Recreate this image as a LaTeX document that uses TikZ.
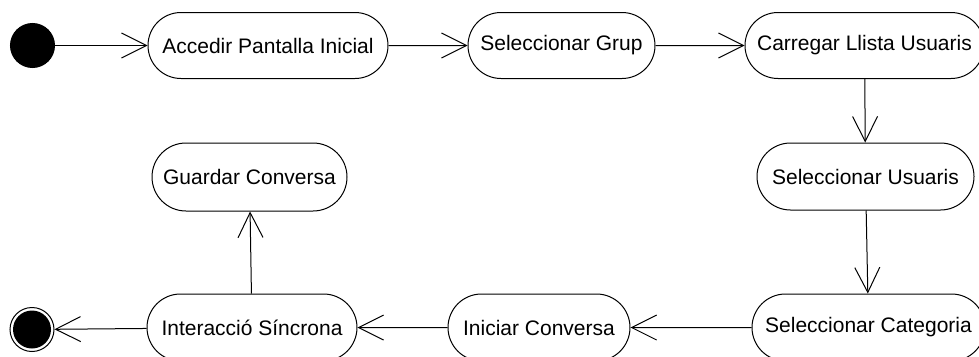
\documentclass[tikz,border=0pt]{standalone}
\usepackage{fontspec}
\setmainfont{Liberation Sans}
\usetikzlibrary{shapes.misc,arrows.meta}
\begin{document}
\begin{tikzpicture}[x=1pt,y=-1pt,
  act/.style={rounded rectangle, draw, line width=1pt, inner sep=0pt,
    minimum height=66pt, font=\fontsize{21}{25}\selectfont},
  flow/.style={draw, line width=1pt, -{Straight Barb[length=25pt,width=25pt,line width=1pt]}}]
\useasboundingbox (0,0) rectangle (979,356);
\clip (0,0) rectangle (979,356);
\node[circle, fill=black, draw, line width=1pt, minimum size=44pt, inner sep=0pt] (start) at (32.5,45.5) {};
\node[act, minimum width=240pt] (acc) at (268,45.5) {Accedir Pantalla Inicial};
\node[act, minimum width=187pt] (grup) at (561.5,45.5) {Seleccionar Grup};
\node[act, minimum width=239pt] (carr) at (864.5,45.5) {Carregar Llista Usuaris};
\node[act, minimum width=217pt, minimum height=67pt] (usu) at (865.5,176.5) {Seleccionar Usuaris};
\node[act, minimum width=233pt, minimum height=67pt] (cat) at (868.5,327.5) {Seleccionar Categoria};
\node[act, minimum width=182pt, minimum height=67pt] (ini) at (539,327.5) {Iniciar Conversa};
\node[act, minimum width=210pt, minimum height=67pt] (inter) at (252,327.5) {Interacció Síncrona};
\node[act, minimum width=195pt, minimum height=68pt] (guard) at (249.5,177) {Guardar Conversa};
\node[circle, draw, line width=1pt, minimum size=44pt, inner sep=0pt] (end) at (32,329.5) {};
\fill (end.center) circle (19pt);
\draw[flow] (start) -- (acc);
\draw[flow] (acc) -- (grup);
\draw[flow] (grup) -- (carr);
\draw[flow] (carr) -- (usu);
\draw[flow] (usu) -- (cat);
\draw[flow] (cat) -- (ini);
\draw[flow] (ini) -- (inter);
\draw[flow] (inter) -- (end);
\draw[flow] (inter) -- (guard);
\end{tikzpicture}
\end{document}
